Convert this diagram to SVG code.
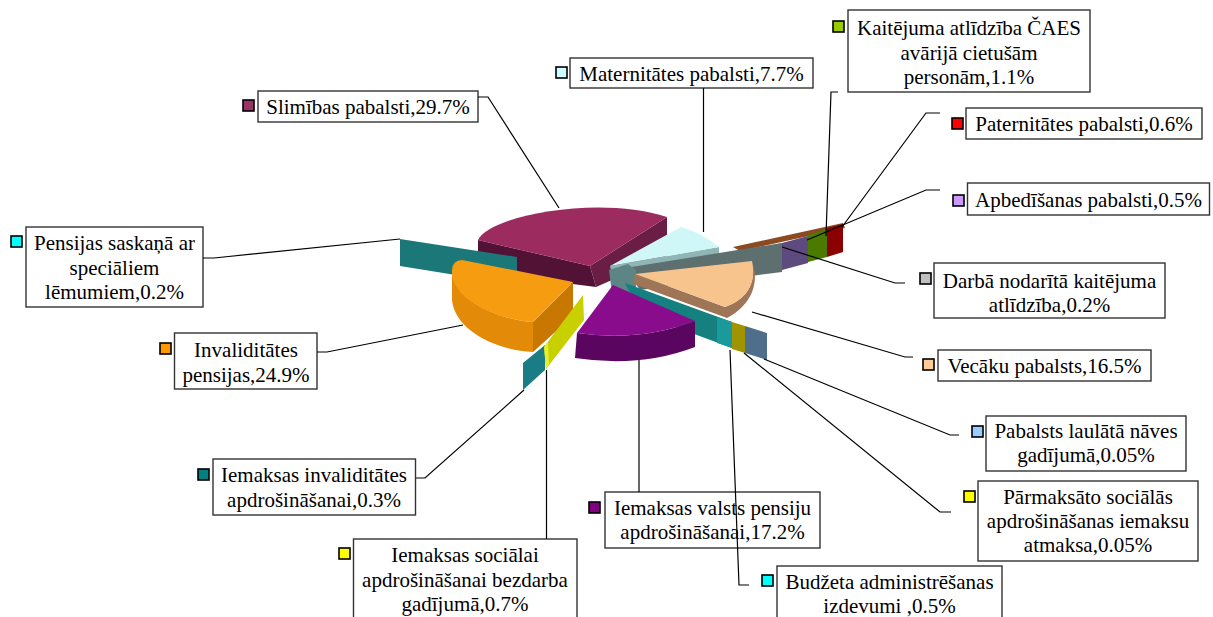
<svg xmlns="http://www.w3.org/2000/svg" width="1213" height="617" viewBox="0 0 1213 617">
<style>
.box{fill:#fff;stroke:#333;stroke-width:1.4}
.mk{stroke:#000;stroke-width:1.6}
.t{font-family:"Liberation Serif","Times New Roman",serif;font-size:21px;fill:#000;text-anchor:middle}
.c{fill:none;stroke:#000;stroke-width:1.2}
</style>
<rect width="1213" height="617" fill="#fff"/>
<g id="pie">
  <path d="M733,247 L843,223 L845,228 L740,251 Z" fill="#8B4A20"/>
  <path d="M827,228 L843,224 L843,252 L827,257 Z" fill="#8B0000"/>
  <path d="M808,235 L827,229 L827,257 L808,262 Z" fill="#4A7A00"/>
  <path d="M782,243 L808,236 L808,263 L782,270 Z" fill="#5F4A80"/>
  <path d="M750,250 L782,243 L782,270 L750,275 Z" fill="#596A6F"/>
  <path d="M478,240 L590,266 L596,287 L478,272 Z" fill="#521235"/>
  <path d="M590,266 L667,217 L667,256 L596,287 Z" fill="#6A1E45"/>
  <path d="M478,240 C490,215 600,195 667,217 L590,266 Z" fill="#9C2B60"/>
  <path d="M610,266 L719,247 L719,255 L612,275 Z" fill="#8FB5B5"/>
  <path d="M610,266 L681,227 Q700,232 719,247 Z" fill="#CFF7F7"/>
  <path d="M625,268 L782,243 L782,272 L640,290 Z" fill="#5E6F70"/>
  <path d="M400,239 L517,257 L517,285 L400,266 Z" fill="#1C7878"/>
  <path d="M609,270 L628,264 L636,270 L636,292 L612,294 Z" fill="#5E8585"/>
  <path d="M452,268 C450,300 500,320 533,322 L533,352 C495,350 455,330 452,300 Z" fill="#E38A08"/>
  <path d="M573,282 L533,322 L533,352 L573,316 Z" fill="#C87800"/>
  <path d="M462,260 L573,282 L533,322 C500,320 450,300 452,270 Q453,260 462,260 Z" fill="#F59C10"/>
  <path d="M752,261 C760,282 752,305 727,318 L634,284 L635,274 L725,307 C745,300 757,285 752,261 Z" fill="#9E7556"/>
  <path d="M635,274 L752,261 C757,285 745,300 725,307 Z" fill="#F8C48E"/>
  <path d="M625,283 L732,322 L732,348 L640,314 Z" fill="#14807F"/>
  <path d="M717,317 L732,322 L732,348 L717,343 Z" fill="#1A9A9A"/>
  <path d="M732,322 L745,326 L745,353 L732,349 Z" fill="#A09400"/>
  <path d="M745,326 L767,333 L767,360 L745,353 Z" fill="#4E6E8C"/>
  <path d="M577,333 Q640,342 695,321 L695,347 Q640,368 575,358 Z" fill="#5A0560"/>
  <path d="M613,285 L695,321 Q640,342 577,333 Z" fill="#880C8C"/>
  <path d="M523,363 L545,345 L545,370 L523,390 Z" fill="#1A7D85"/>
  <path d="M544,347 L583,295 L584,320 L546,369 Z" fill="#C8D000"/>
  <path d="M544,347 L548,342 L549,364 L546,369 Z" fill="#E5EE30"/>
</g>
<g id="n-slimibas">
  <rect class="mk" x="243" y="100" width="11" height="11" fill="#993366"/>
  <rect class="box" x="258" y="91" width="220" height="31"/>
  <text class="t" x="368" y="114">Slimības pabalsti,29.7%</text>
</g>
<g id="n-maternitates">
  <rect class="mk" x="556" y="67" width="11" height="11" fill="#CCFFFF"/>
  <rect class="box" x="570" y="58" width="243" height="30"/>
  <text class="t" x="691.5" y="81">Maternitātes pabalsti,7.7%</text>
</g>
<g id="n-kaitejuma">
  <rect class="mk" x="833" y="21" width="11" height="11" fill="#99CC00"/>
  <rect class="box" x="848" y="10" width="242" height="82"/>
  <text class="t" x="969" y="35">Kaitējuma atlīdzība ČAES</text>
  <text class="t" x="969" y="59.5">avārijā cietušām</text>
  <text class="t" x="969" y="84">personām,1.1%</text>
</g>
<g id="n-paternitates">
  <rect class="mk" x="952" y="118" width="11" height="11" fill="#FF0000"/>
  <rect class="box" x="966" y="108" width="236" height="31"/>
  <text class="t" x="1084" y="131">Paternitātes pabalsti,0.6%</text>
</g>
<g id="n-apbedisanas">
  <rect class="mk" x="953" y="195" width="11" height="11" fill="#CC99FF"/>
  <rect class="box" x="967.5" y="183" width="242" height="32"/>
  <text class="t" x="1088.5" y="207">Apbedīšanas pabalsti,0.5%</text>
</g>
<g id="n-darba">
  <rect class="mk" x="920" y="273" width="11" height="11" fill="#C0C0C0"/>
  <rect class="box" x="934" y="263" width="231" height="55"/>
  <text class="t" x="1049.5" y="288">Darbā nodarītā kaitējuma</text>
  <text class="t" x="1049.5" y="312">atlīdzība,0.2%</text>
</g>
<g id="n-vecaku">
  <rect class="mk" x="923" y="359" width="11" height="11" fill="#FFCC99"/>
  <rect class="box" x="938" y="350" width="213" height="31"/>
  <text class="t" x="1044.5" y="373">Vecāku pabalsts,16.5%</text>
</g>
<g id="n-pabalsts">
  <rect class="mk" x="972" y="426" width="11" height="11" fill="#99CCFF"/>
  <rect class="box" x="986" y="416" width="200" height="55"/>
  <text class="t" x="1086" y="438">Pabalsts laulātā nāves</text>
  <text class="t" x="1086" y="462">gadījumā,0.05%</text>
</g>
<g id="n-parmaksato">
  <rect class="mk" x="964" y="491" width="11" height="11" fill="#FFFF00"/>
  <rect class="box" x="978" y="481" width="220" height="80"/>
  <text class="t" x="1088" y="504">Pārmaksāto sociālās</text>
  <text class="t" x="1088" y="528">apdrošināšanas iemaksu</text>
  <text class="t" x="1088" y="552">atmaksa,0.05%</text>
</g>
<g id="n-budzeta">
  <rect class="mk" x="762" y="575" width="11" height="11" fill="#00FFFF"/>
  <rect class="box" x="777" y="566" width="225" height="60"/>
  <text class="t" x="889.5" y="589">Budžeta administrēšanas</text>
  <text class="t" x="889.5" y="613">izdevumi ,0.5%</text>
</g>
<g id="n-valsts">
  <rect class="mk" x="589" y="502" width="11" height="11" fill="#800080"/>
  <rect class="box" x="605" y="492" width="215" height="56"/>
  <text class="t" x="712.5" y="515">Iemaksas valsts pensiju</text>
  <text class="t" x="712.5" y="539">apdrošināšanai,17.2%</text>
</g>
<g id="n-bezdarba">
  <rect class="mk" x="339" y="548" width="11" height="11" fill="#FFFF00"/>
  <rect class="box" x="353.5" y="539" width="223.5" height="85"/>
  <text class="t" x="465" y="562">Iemaksas sociālai</text>
  <text class="t" x="465" y="586.5">apdrošināšanai bezdarba</text>
  <text class="t" x="465" y="611">gadījumā,0.7%</text>
</g>
<g id="n-iem-invaliditates">
  <rect class="mk" x="198" y="469" width="11" height="11" fill="#008080"/>
  <rect class="box" x="213" y="459" width="202.5" height="56"/>
  <text class="t" x="314" y="482">Iemaksas invaliditātes</text>
  <text class="t" x="314" y="507">apdrošināšanai,0.3%</text>
</g>
<g id="n-invaliditates">
  <rect class="mk" x="160" y="343" width="11" height="11" fill="#FF9900"/>
  <rect class="box" x="174.5" y="333" width="142.5" height="56"/>
  <text class="t" x="246" y="357">Invaliditātes</text>
  <text class="t" x="246" y="382">pensijas,24.9%</text>
</g>
<g id="n-pensijas">
  <rect class="mk" x="11" y="236" width="11" height="11" fill="#00FFFF"/>
  <rect class="box" x="26" y="227" width="177" height="80"/>
  <text class="t" x="114.5" y="250">Pensijas saskaņā ar</text>
  <text class="t" x="114.5" y="274.5">speciāliem</text>
  <text class="t" x="114.5" y="299">lēmumiem,0.2%</text>
</g>
<g id="connectors">
  <path class="c" d="M478,97 L488,97 L559,208"/>
  <path class="c" d="M703.5,88 L703.5,232"/>
  <path class="c" d="M838,92 L831,92 L826,236"/>
  <path class="c" d="M940,113 L926,113 L842,227"/>
  <path class="c" d="M940,190 L926,190 L807,240"/>
  <path class="c" d="M905,283 L895,283 L782,247"/>
  <path class="c" d="M752,312 L905,357 L913,357"/>
  <path class="c" d="M764,359 L950,435 L959,435"/>
  <path class="c" d="M744,353 L940,512 L951,512"/>
  <path class="c" d="M730,350 L739,585 L749,585"/>
  <path class="c" d="M639,492 L639,360"/>
  <path class="c" d="M546.5,539 L546.5,370"/>
  <path class="c" d="M416,478 L425,478 L524,390"/>
  <path class="c" d="M317,352 L327,352 L463,325"/>
  <path class="c" d="M203,258 L214,258 L400,239"/>
</g>
</svg>
